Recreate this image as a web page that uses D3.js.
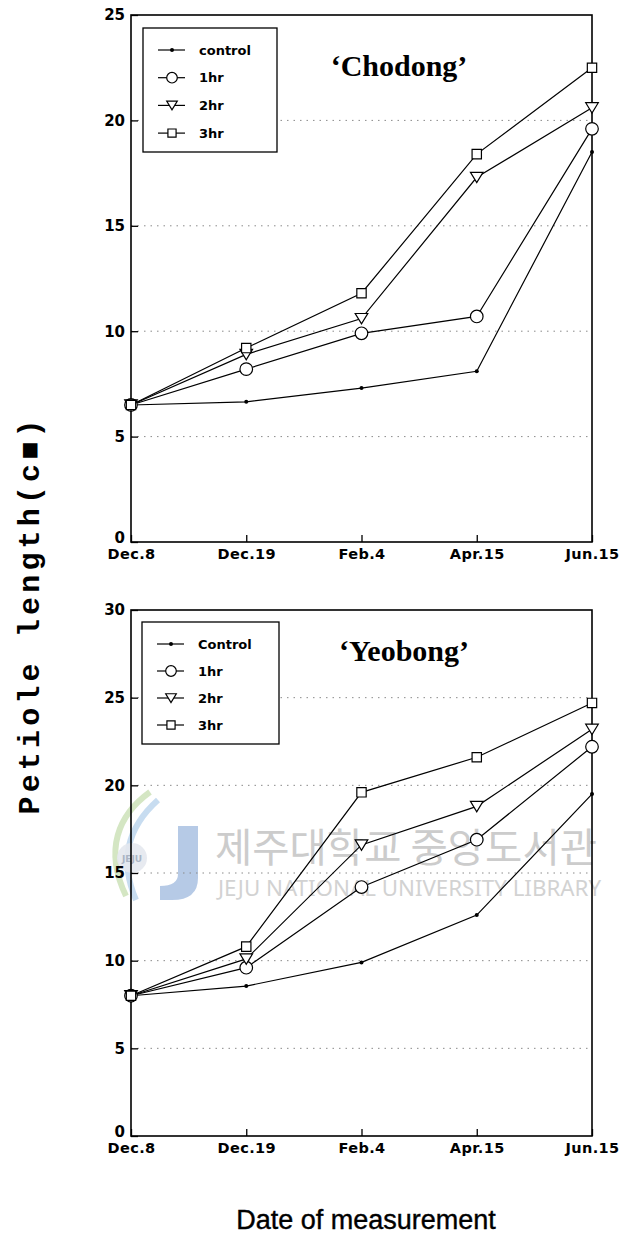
<!DOCTYPE html>
<html>
<head>
<meta charset="utf-8">
<script src="https://cdn.jsdelivr.net/npm/d3@7"></script>
<style>
  html, body { margin: 0; padding: 0; background: #fff; }
  svg { display: block; }
</style>
</head>
<body>
<svg id="chart" width="626" height="1246"></svg>
<script>
// Measurement dates (x categories)
const dates = ["Dec.8", "Dec.19", "Feb.4", "Apr.15", "Jun.15"];

// 'Chodong' petiole length (cm)
const chodongControl = [6.5, 6.65, 7.3, 8.1, 18.5];
const chodong1hr     = [6.5, 8.2, 9.9, 10.7, 19.6];
const chodong2hr     = [6.5, 8.9, 10.6, 17.3, 20.6];
const chodong3hr     = [6.5, 9.2, 11.8, 18.4, 22.5];

// 'Yeobong' petiole length (cm)
const yeobongControl = [8.0, 8.55, 9.9, 12.6, 19.5];
const yeobong1hr     = [8.0, 9.6, 14.2, 16.9, 22.2];
const yeobong2hr     = [8.0, 10.1, 16.6, 18.8, 23.2];
const yeobong3hr     = [8.0, 10.8, 19.6, 21.6, 24.7];

// Y tick values
const chodongTicks = [0, 5, 10, 15, 20, 25];
const yeobongTicks = [0, 5, 10, 15, 20, 25, 30];

// Legend labels
const chodongLegend = ["control", "1hr", "2hr", "3hr"];
const yeobongLegend = ["Control", "1hr", "2hr", "3hr"];
const markers = ["dot", "circle", "triangle", "square"];

const svg = d3.select("#chart");
const tickFont = "'DejaVu Sans', sans-serif";

// Library watermark, drawn behind the plots
function drawWatermark(g) {
  g.append("path")
    .attr("d", "M150,792 C118,815 104,850 126,896")
    .attr("fill", "none").attr("stroke", "#c9e0b4").attr("stroke-width", 6).attr("opacity", 0.8);
  g.append("path")
    .attr("d", "M158,800 C130,825 118,858 136,900")
    .attr("fill", "none").attr("stroke", "#b9d3ec").attr("stroke-width", 6).attr("opacity", 0.8);
  g.append("circle").attr("cx", 132).attr("cy", 858).attr("r", 15)
    .attr("fill", "#e4e8ee").attr("opacity", 0.9);
  g.append("text").attr("x", 132).attr("y", 862).attr("text-anchor", "middle")
    .attr("font-family", "'DejaVu Sans', sans-serif").attr("font-size", 9).attr("font-weight", "bold")
    .attr("fill", "#aab4c4").text("JEJU");
  g.append("path")
    .attr("d", "M178,826 L198,826 L198,878 Q198,900 172,900 L160,900 L160,886 Q178,886 178,874 Z")
    .attr("fill", "#a9c1e2").attr("opacity", 0.85);
  g.append("text").attr("x", 215).attr("y", 862)
    .attr("font-family", "'Noto Sans CJK KR', sans-serif").attr("font-size", 40)
    .attr("textLength", 382).attr("lengthAdjust", "spacingAndGlyphs")
    .attr("fill", "#cccccc").text("제주대학교 중앙도서관");
  g.append("text").attr("x", 218).attr("y", 896)
    .attr("font-family", "'Noto Sans', sans-serif").attr("font-size", 22)
    .attr("textLength", 383).attr("lengthAdjust", "spacingAndGlyphs")
    .attr("fill", "#d2d2d2").text("JEJU NATIONAL UNIVERSITY  LIBRARY");
}

// Marker path centred on (cx, cy)
function markerPath(type, cx, cy, s) {
  const p = d3.path();
  if (type === "triangle") {
    p.moveTo(cx - s, cy - s * 0.8);
    p.lineTo(cx + s, cy - s * 0.8);
    p.lineTo(cx, cy + s * 0.85);
    p.closePath();
  } else if (type === "square") {
    p.rect(cx - s * 0.85, cy - s * 0.85, s * 1.7, s * 1.7);
  }
  return p;
}

function drawMarker(g, type, cx, cy, s) {
  if (type === "dot") {
    g.append("circle").attr("cx", cx).attr("cy", cy).attr("r", 2)
      .attr("fill", "#000");
  } else if (type === "circle") {
    g.append("circle").attr("cx", cx).attr("cy", cy).attr("r", s)
      .attr("fill", "#fff").attr("stroke", "#000").attr("stroke-width", 1.2);
  } else {
    g.append("path").attr("d", markerPath(type, cx, cy, s).toString())
      .attr("fill", "#fff").attr("stroke", "#000").attr("stroke-width", 1.2);
  }
}

function drawPanel(opts) {
  const { top, bottom, left, right, yMax, ticks, series, legend, legendBox, title } = opts;
  const g = svg.append("g");
  const x = d3.scalePoint().domain(dates).range([left, right]);
  const y = d3.scaleLinear().domain([0, yMax]).range([bottom, top]);

  // dotted grid
  g.append("g").selectAll("line")
    .data(ticks.filter(t => t > 0 && t < yMax))
    .join("line")
    .attr("x1", left).attr("x2", right)
    .attr("y1", d => y(d)).attr("y2", d => y(d))
    .attr("stroke", "#8a8a8a").attr("stroke-width", 1)
    .attr("stroke-dasharray", "1.5,5");

  // axes
  const xAxis = g.append("g").attr("transform", `translate(0,${bottom})`)
    .call(d3.axisBottom(x).tickSize(-7).tickPadding(7).tickSizeOuter(0));
  xAxis.selectAll("text")
    .attr("font-family", tickFont).attr("font-weight", "bold")
    .attr("font-size", 14.5).attr("letter-spacing", 0.4).attr("fill", "#000");
  const yAxis = g.append("g").attr("transform", `translate(${left},0)`)
    .call(d3.axisLeft(y).tickValues(ticks).tickFormat(d3.format("d")).tickSize(-7).tickPadding(6).tickSizeOuter(0));
  yAxis.selectAll("text")
    .attr("font-family", tickFont).attr("font-weight", "bold")
    .attr("font-size", 15).attr("fill", "#000");
  // lift the zero label clear of the first date label
  yAxis.selectAll(".tick").filter(d => d === 0).select("text").attr("dy", "0.05em");
  [xAxis, yAxis].forEach(a => {
    a.select(".domain").remove();
    a.selectAll(".tick line").attr("stroke", "#000").attr("stroke-width", 1.3);
  });

  // frame
  g.append("rect")
    .attr("x", left).attr("y", top)
    .attr("width", right - left).attr("height", bottom - top)
    .attr("fill", "none").attr("stroke", "#000").attr("stroke-width", 1.6);

  // series lines
  const line = d3.line().x((d, i) => x(dates[i])).y(d => y(d));
  series.forEach(vals => {
    g.append("path").datum(vals).attr("d", line)
      .attr("fill", "none").attr("stroke", "#000").attr("stroke-width", 1.2);
  });
  // markers
  series.forEach((vals, si) => {
    vals.forEach((v, i) => drawMarker(g, markers[si], x(dates[i]), y(v), si === 3 ? 5.5 : 6.3));
  });

  // legend
  const lb = legendBox;
  g.append("rect").attr("x", lb.x).attr("y", lb.y)
    .attr("width", lb.w).attr("height", lb.h)
    .attr("fill", "#fff").attr("stroke", "#000").attr("stroke-width", 1.3);
  legend.forEach((name, i) => {
    const cy = lb.y + 22 + i * lb.step;
    g.append("line").attr("x1", lb.x + 15).attr("x2", lb.x + 42)
      .attr("y1", cy).attr("y2", cy).attr("stroke", "#000").attr("stroke-width", 1.2);
    drawMarker(g, markers[i], lb.x + 29, cy, i === 3 ? 4.8 : 5.3);
    g.append("text").attr("x", lb.x + 56).attr("y", cy + 4.5)
      .attr("font-family", tickFont).attr("font-weight", "bold")
      .attr("font-size", 13).text(name);
  });

  // panel title
  g.append("text").attr("x", title.x).attr("y", title.y)
    .attr("text-anchor", "middle")
    .attr("font-family", "'Liberation Serif', 'Times New Roman', serif")
    .attr("font-weight", "bold").attr("font-size", 30)
    .text(title.text);
}

drawWatermark(svg.append("g"));

drawPanel({
  top: 15, bottom: 542, left: 131, right: 592, yMax: 25,
  ticks: chodongTicks,
  series: [chodongControl, chodong1hr, chodong2hr, chodong3hr],
  legend: chodongLegend,
  legendBox: { x: 143, y: 28, w: 134, h: 124, step: 27.7 },
  title: { x: 399, y: 76, text: "\u2018Chodong\u2019" }
});

drawPanel({
  top: 610, bottom: 1136, left: 131, right: 592, yMax: 30,
  ticks: yeobongTicks,
  series: [yeobongControl, yeobong1hr, yeobong2hr, yeobong3hr],
  legend: yeobongLegend,
  legendBox: { x: 142, y: 622, w: 137, h: 122, step: 27 },
  title: { x: 404, y: 661, text: "\u2018Yeobong\u2019" }
});

// shared axis titles
svg.append("text")
  .attr("transform", "translate(39,617) rotate(-90)")
  .attr("text-anchor", "middle")
  .attr("font-family", "'Liberation Mono', 'DejaVu Sans Mono', monospace")
  .attr("font-weight", "bold").attr("font-size", 30)
  .attr("textLength", 395).attr("lengthAdjust", "spacing")
  .text("Petiole length(c\u25A0)");

svg.append("text")
  .attr("x", 366).attr("y", 1229)
  .attr("text-anchor", "middle")
  .attr("font-family", "'Liberation Sans', Arial, sans-serif")
  .attr("font-size", 27)
  .attr("stroke", "#000").attr("stroke-width", 0.4)
  .text("Date of measurement");
</script>
</body>
</html>
